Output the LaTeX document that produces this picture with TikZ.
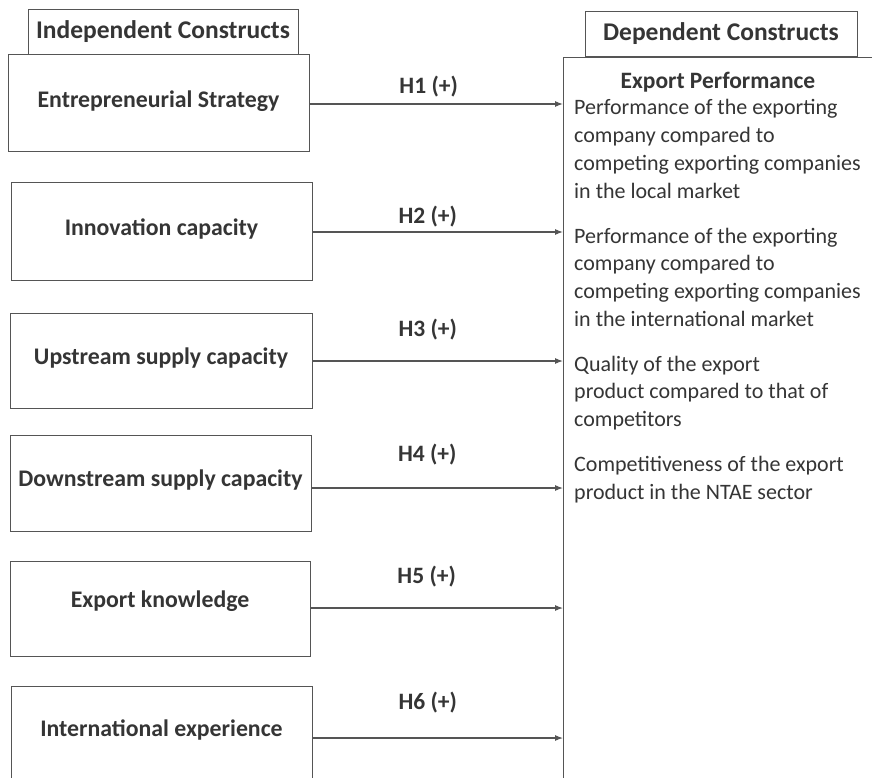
\documentclass[tikz,border=0pt]{standalone}
\usepackage{fontspec}
\setmainfont{Carlito}
\usetikzlibrary{arrows.meta}
\definecolor{ink}{HTML}{353535}
\definecolor{edge}{HTML}{555555}
\begin{document}
\begin{tikzpicture}[x=1pt,y=-1pt,
  box/.style={draw=edge, line width=1pt, rectangle, inner sep=0pt, text=ink,
    font=\bfseries\fontsize{23.8}{28}\selectfont, text height=17pt, text depth=#1},
  box/.default=5pt,
  hdr/.style={box, font=\bfseries\fontsize{25.5}{30}\selectfont},
  arr/.style={draw=edge, line width=1.1pt, -{Latex[length=8pt,width=6pt]}},
  hlab/.style={text=ink, font=\bfseries\fontsize{23.5}{28}\selectfont, inner sep=0pt},
  body/.style={text=ink, font=\fontsize{22}{27.7}\selectfont, align=left, inner sep=0pt, anchor=north west}]
\useasboundingbox (0,0) rectangle (872,778);
\clip (0,0) rectangle (872,778);
\fill[white] (0,0) rectangle (872,778);

% headers
\node[hdr=7pt, minimum width=270pt, minimum height=45pt] (ih) at (163,32.5) {Independent Constructs};
\node[hdr=7pt, minimum width=272pt, minimum height=45pt] (dh) at (721,34.5) {Dependent Constructs};

% dependent box
\node[draw=edge, line width=1pt, rectangle, inner sep=0pt, minimum width=340pt, minimum height=780pt, anchor=north west] (dep) at (563,57) {};

% independent boxes
\node[box=8pt,  minimum width=301pt, minimum height=97pt] (b1) at (158.5,103.5) {Entrepreneurial Strategy};
\node[box=10pt, minimum width=301pt, minimum height=97pt] (b2) at (161.5,231.5) {Innovation capacity};
\node[box=10pt, minimum width=302pt, minimum height=95pt] (b3) at (161,360.5) {Upstream supply capacity};
\node[box=11pt, minimum width=301pt, minimum height=96pt] (b4) at (160.5,483) {Downstream supply capacity};
\node[box=20pt, minimum width=300pt, minimum height=95pt] (b5) at (160,608.5) {Export knowledge};
\node[box=13pt, minimum width=301pt, minimum height=96pt] (b6) at (161.5,734) {International experience};

% arrows
\draw[arr] (b1.east |- 0,104) -- node[hlab, pos=0.47, yshift=17pt] (h1) {H1 (+)} (dep.west |- 0,104);
\draw[arr] (b2.east |- 0,232) -- node[hlab, pos=0.46, yshift=15pt] (h2) {H2 (+)} (dep.west |- 0,232);
\draw[arr] (b3.east |- 0,361) -- node[hlab, pos=0.46, yshift=31pt] (h3) {H3 (+)} (dep.west |- 0,361);
\draw[arr] (b4.east |- 0,488) -- node[hlab, pos=0.46, yshift=33pt] (h4) {H4 (+)} (dep.west |- 0,488);
\draw[arr] (b5.east |- 0,608) -- node[hlab, pos=0.46, yshift=31pt] (h5) {H5 (+)} (dep.west |- 0,608);
\draw[arr] (b6.east |- 0,738) -- node[hlab, pos=0.46, yshift=35pt] (h6) {H6 (+)} (dep.west |- 0,738);

% dependent text
\node[hlab] (ep) at (718,82) {Export Performance};
\node[body] (items) at (574,99.5) {Performance of the exporting\\
company compared to\\
competing exporting companies\\
in the local market\\[17.3pt]
Performance of the exporting\\
company compared to\\
competing exporting companies\\
in the international market\\[17.3pt]
Quality of the export\\
product compared to that of\\
competitors\\[17.3pt]
Competitiveness of the export\\
product in the NTAE sector};
\end{tikzpicture}
\end{document}
